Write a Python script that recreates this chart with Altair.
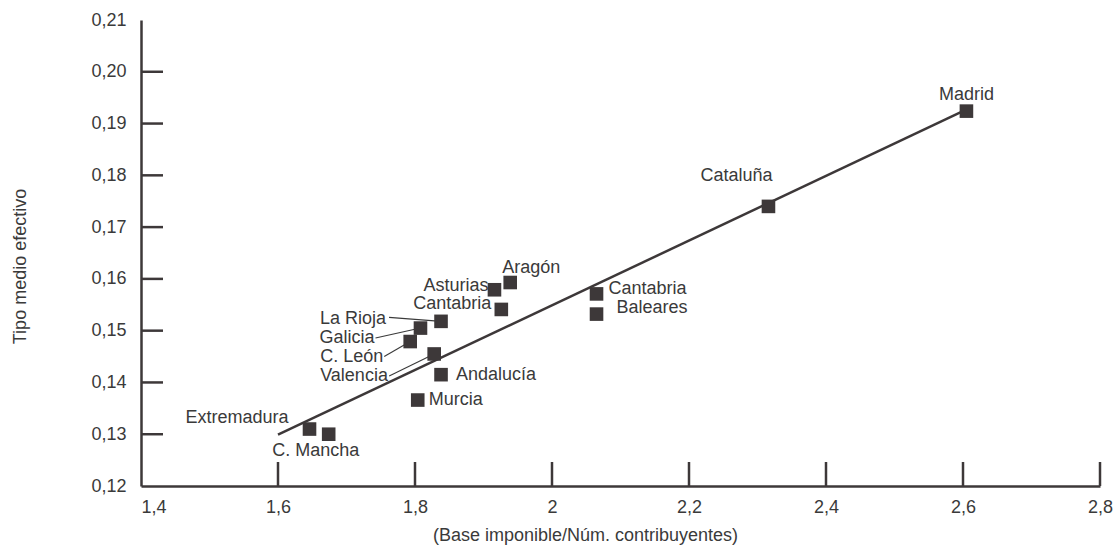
import altair as alt
import pandas as pd

# Comunidades autónomas: renta media declarada vs. tipo medio efectivo
regions = ["Madrid", "Cataluña", "Cantabria", "Baleares", "Aragón", "Asturias",
           "Cantabria", "La Rioja", "Galicia", "C. León", "Valencia", "Andalucía",
           "Murcia", "Extremadura", "C. Mancha"]
base_imponible = [2.605, 2.316, 2.065, 2.065, 1.939, 1.916,
                  1.926, 1.838, 1.808, 1.793, 1.828, 1.838,
                  1.804, 1.646, 1.674]
tipo_medio = [0.1924, 0.1740, 0.1571, 0.1532, 0.1593, 0.1579,
              0.1541, 0.1518, 0.1505, 0.1479, 0.1455, 0.1415,
              0.1366, 0.1310, 0.1300]

# fitted regression line endpoints
fit_x = [1.6, 2.6]
fit_y = [0.1299, 0.1924]

x_label_values = [1.4, 1.6, 1.8, 2.0, 2.2, 2.4, 2.6, 2.8]
y_label_values = [0.12, 0.13, 0.14, 0.15, 0.16, 0.17, 0.18, 0.19, 0.20, 0.21]
x_tick_values = [1.6, 1.8, 2.0, 2.2, 2.4, 2.6, 2.8]
y_tick_values = [0.13, 0.14, 0.15, 0.16, 0.17, 0.18, 0.19, 0.20]

INK = "#3d3839"
TEXT = "#3a3a3a"
FONT = "Liberation Sans"
FS = 18

df = pd.DataFrame({"i": list(range(len(regions))), "region": regions,
                   "x": base_imponible, "y": tipo_medio})

xscale = alt.Scale(domain=[1.4, 2.8], nice=False, zero=False)
yscale = alt.Scale(domain=[0.12, 0.21], nice=False, zero=False)

x_axis = alt.Axis(
    values=x_label_values,
    labelExpr="replace(format(datum.value, '.1~f'), '.', ',')",
    ticks=False, grid=False, domainColor=INK, domainWidth=2.5,
    labelFont=FONT, labelFontSize=FS, labelColor=TEXT, labelPadding=12,
    labelOverlap=False, labelBound=False,
    labelAlign={"condition": {"test": "datum.value < 1.5", "value": "left"}, "value": "center"},
    title="(Base imponible/Núm. contribuyentes)", titleFont=FONT, titleFontSize=FS,
    titleFontWeight="normal", titleColor=TEXT, titleX=444, titleY=49,
    titleAlign="center", titleBaseline="middle",
)
y_axis = alt.Axis(
    values=y_label_values,
    labelExpr="replace(format(datum.value, '.2f'), '.', ',')",
    ticks=False, grid=False, domainColor=INK, domainWidth=2.5,
    labelFont=FONT, labelFontSize=FS, labelColor=TEXT, labelPadding=15,
    labelOverlap=False, labelBound=False,
    title="Tipo medio efectivo", titleFont=FONT, titleFontSize=FS,
    titleFontWeight="normal", titleColor=TEXT, titleX=-121, titleY=246,
    titleAngle=270, titleAlign="center", titleBaseline="middle",
)


def xenc(field):
    return alt.X(field, type="quantitative", scale=xscale, axis=x_axis)


def yenc(field):
    return alt.Y(field, type="quantitative", scale=yscale, axis=y_axis)


# inward tick marks on both axes
y_ticks = alt.Chart(pd.DataFrame({"v": y_tick_values})).mark_rule(
    color=INK, strokeWidth=2.5
).encode(y=yenc("v"), x=alt.value(0), x2=alt.value(22))

x_ticks = alt.Chart(pd.DataFrame({"v": x_tick_values})).mark_rule(
    color=INK, strokeWidth=2.5
).encode(x=xenc("v"), y=alt.value(442), y2=alt.value(466))

fit = alt.Chart(pd.DataFrame({"x": fit_x, "y": fit_y})).mark_line(
    color=INK, strokeWidth=2.5
).encode(x=xenc("x"), y=yenc("y"))

# leader lines from label text to the point (offsets in pixels)
leaders = {7: (-52, -4), 8: (-45, 10), 9: (-26, 15), 10: (-45, 22)}
leader_layers = []
for idx, (ox, oy) in leaders.items():
    leader_layers.append(
        alt.Chart(df).transform_filter(alt.datum.i == idx).mark_rule(
            color=TEXT, strokeWidth=1.1, x2Offset=ox, y2Offset=oy
        ).encode(x=xenc("x"), y=yenc("y"), x2="x:Q", y2="y:Q")
    )

points = alt.Chart(df).mark_square(
    size=185, color=INK, opacity=1, filled=True
).encode(x=xenc("x"), y=yenc("y"))

# label placement: (align, dx, dy)
label_style = {
    0: ("center", 0, -16),
    1: ("right", 4, -30),
    2: ("left", 12, -5),
    3: ("left", 20, -6),
    4: ("left", -8, -15),
    5: ("right", -6, -4),
    6: ("right", -10, -5),
    7: ("left", -121, -2),
    8: ("left", -101, 10),
    9: ("left", -90, 15),
    10: ("left", -114, 22),
    11: ("left", 15, 0),
    12: ("left", 11, 0),
    13: ("right", -21, -11),
    14: ("center", -13, 17),
}
text_layers = []
for idx, (al, dx, dy) in label_style.items():
    text_layers.append(
        alt.Chart(df).transform_filter(alt.datum.i == idx).mark_text(
            align=al, baseline="middle", dx=dx, dy=dy,
            font=FONT, fontSize=FS, color=TEXT
        ).encode(x=xenc("x"), y=yenc("y"), text="region:N")
    )

chart = alt.layer(
    y_ticks, x_ticks, fit, *leader_layers, points, *text_layers
).properties(
    width=959, height=466,
    autosize=alt.AutoSizeParams(type="none"),
    padding={"left": 141, "top": 20, "right": 14, "bottom": 62},
    background="white",
).configure_view(stroke=None)

chart.save("out.html", embed_options={"renderer": "svg", "actions": False})
